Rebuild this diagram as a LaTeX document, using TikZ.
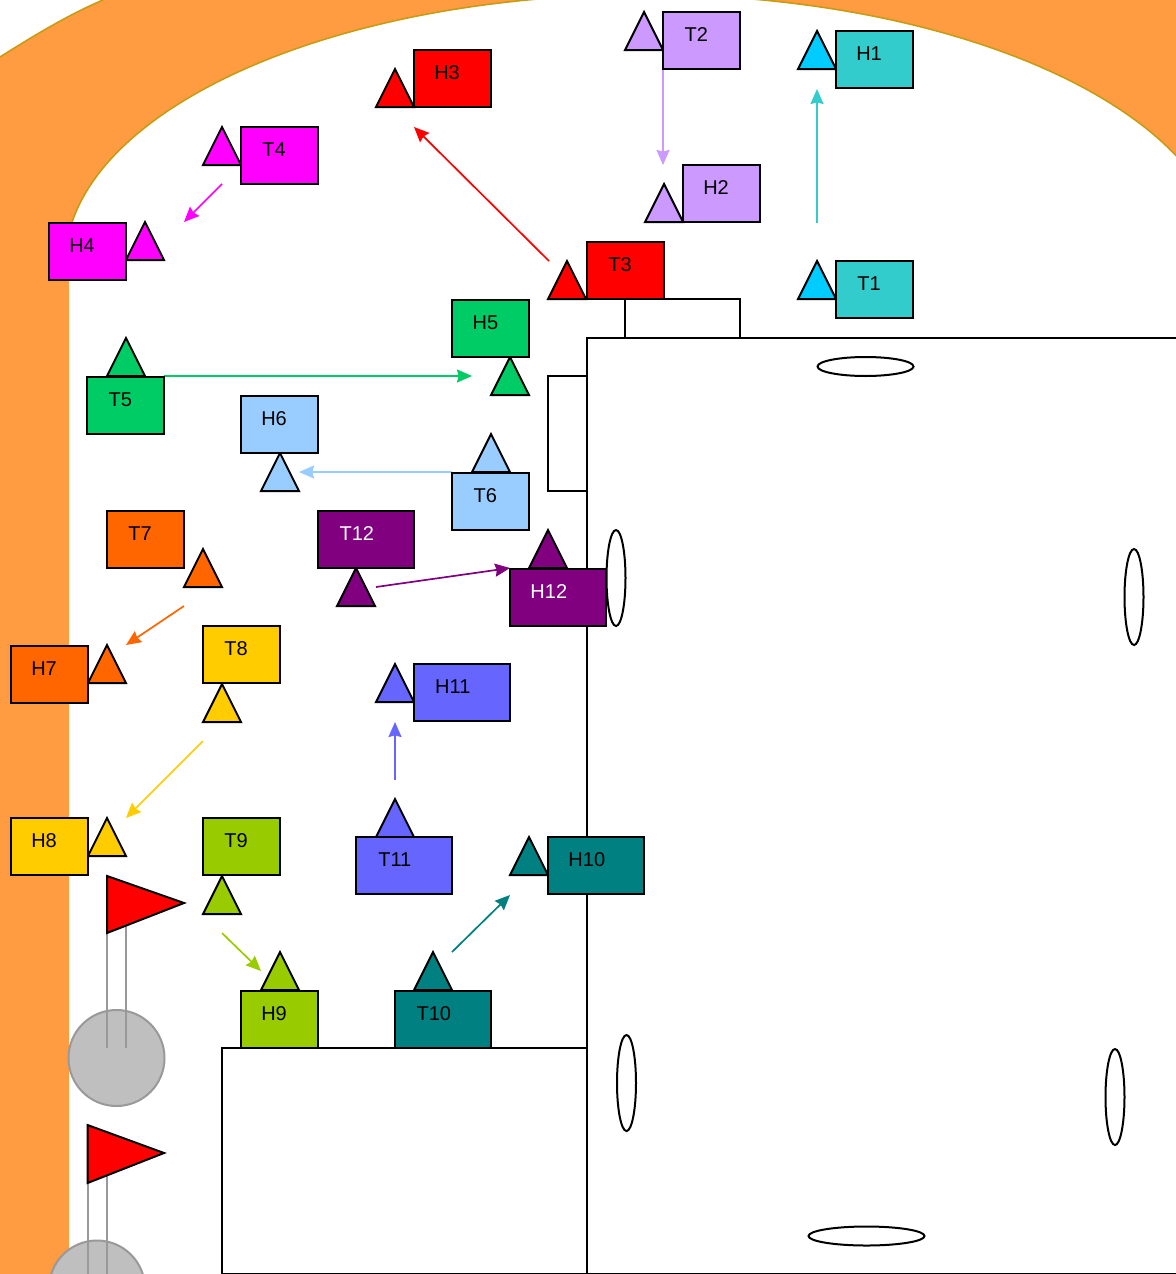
\documentclass[tikz,border=0pt]{standalone}
\usepackage{fontspec}
\setmainfont{Liberation Sans}
\usepackage{xcolor}
\usetikzlibrary{arrows.meta}

\definecolor{wallcol}{HTML}{FF9B40}
\definecolor{rimcol}{HTML}{C89B14}
\definecolor{poolcol}{HTML}{BFBFBF}
\definecolor{polecol}{HTML}{999999}
\definecolor{cyanbox}{HTML}{33CCCC}
\definecolor{cyantri}{HTML}{00CCFF}
\definecolor{lilac}{HTML}{CC99FF}
\definecolor{pink}{HTML}{FF00FF}
\definecolor{leaf}{HTML}{00CC66}
\definecolor{sky}{HTML}{99CCFF}
\definecolor{rust}{HTML}{FF6600}
\definecolor{amber}{HTML}{FFCC00}
\definecolor{lime}{HTML}{99CC00}
\definecolor{tealcol}{HTML}{008080}
\definecolor{indigo}{HTML}{6666FF}
\definecolor{plum}{HTML}{800080}

\tikzset{
  teambox/.style={draw=black,line width=1pt,rectangle,anchor=north west,inner sep=0pt,outer sep=0pt,minimum height=28.6pt},
  teamlbl/.style={inner sep=0pt,font=\fontsize{10}{12}\selectfont},
  tri/.style={draw=black,line width=1pt,line join=miter},
  plainshape/.style={draw=black,line width=1pt,fill=white},
  move/.style={line width=0.85pt,-{Stealth[length=7.5pt,width=6.5pt,inset=0.8pt]}},
  pennant/.style={draw=black,line width=1pt,fill=red,line join=miter},
  pole/.style={draw=polecol,line width=1pt},
  pool/.style={draw=polecol,line width=1pt,fill=poolcol}
}

\begin{document}
\begin{tikzpicture}[x=0.5pt,y=-0.5pt]
\path[use as bounding box,clip] (0,0) rectangle (1176,1274);
\fill[white] (0,0) rectangle (1176,1274);

% wall
\fill[wallcol] (0,57) .. controls (35,35) and (68,15) .. (103,0) -- (1176,0) -- (1176,264) -- (69,264) -- (69,1274) -- (0,1274) -- cycle;
\draw[rimcol,line width=0.8pt] (0,57) .. controls (35,35) and (68,15) .. (103,0);
\draw[rimcol,line width=0.8pt,fill=white] (645,264.4) ellipse [x radius=290pt,y radius=135pt];
\fill[white] (69,265) rectangle (1176,1274);
\fill[wallcol] (0,265) rectangle (69,1274);

% building
\draw[plainshape] (625,299) rectangle (740,338);
\draw[plainshape] (548,376) rectangle (587,491);
\draw[plainshape] (587,338) rectangle (1200,1274);
\draw[plainshape] (222,1048) rectangle (587,1274);
\foreach \ex/\ey/\rx/\ry in {865.5/366.5/24/4.75,616/578/4.75/24,1134/597/4.75/24,626.5/1083/4.75/24,1115/1097/4.75/24,866.5/1236/29/4.75}
  \draw[plainshape] (\ex,\ey) ellipse [x radius=\rx pt,y radius=\ry pt];

% pools and flags
\draw[pool] (116.5,1058) circle [radius=24pt];
\draw[pool] (97,1288.5) circle [radius=24pt];
\foreach \px/\py/\pe in {107/925/1048,126/925/1048,87.5/1175/1274,107/1175/1274}
  \draw[pole] (\px,\py) -- (\px,\pe);
\draw[pennant] (107,876) -- (184,903) -- (107,933) -- cycle;
\draw[pennant] (87.5,1125) -- (164,1153) -- (87.5,1183) -- cycle;

% moves
\foreach \n/\col/\xa/\ya/\xb/\yb in {1/cyanbox/817/223/817/89,2/lilac/663/69/663/165,3/red/549/261/414/127,
  4/pink/222/184/184/222,5/leaf/164/376/472/376,6/sky/452/472/299/472,7/rust/184/606/126/645,8/amber/203/741/126/818,
  9/lime/222/933/261/971,10/tealcol/452/952/510/895,11/indigo/395/780/395/722,12/plum/376/587/510/568}{
  \coordinate (from\n) at (\xa,\ya);
  \coordinate (to\n) at (\xb,\yb);
  \draw[move,draw=\col,fill=\col] (from\n) -- (to\n);
}

% triangles, apex given
\foreach \ax/\ay/\col in {817/31/cyantri,817/261/cyantri,644/12/lilac,664/184/lilac,567/261/red,395/69/red,
  222/127/pink,145/222/pink,510/357/leaf,126/338/leaf,280/453/sky,491/434/sky,203/549/rust,107/645/rust,
  222/684/amber,107/818/amber,222/876/lime,280/952/lime,433/952/tealcol,529/837/tealcol,395/799/indigo,395/664/indigo,
  356/568/plum,548/530/plum}
  \draw[tri,fill=\col] (\ax-19,\ay+38) -- (\ax,\ay) -- (\ax+19,\ay+38) -- cycle;

% boxes
\foreach \n/\x/\y/\w/\col/\tc in {H1/836/31/76.8/cyanbox/black,T1/836/261/76.8/cyanbox/black,T2/663.3/12/76.8/lilac/black,H2/683/165/76.8/lilac/black,
  T3/587/242/76.8/red/black,H3/414/50/76.8/red/black,T4/241/127/76.8/pink/black,H4/49/222.5/76.8/pink/black,
  H5/452.3/299.5/76.8/leaf/black,T5/87.3/376.5/76.8/leaf/black,H6/241/395.5/76.8/sky/black,T6/452.3/472.5/76.8/sky/black,
  T7/107/511/76.8/rust/black,H7/11/645.5/76.8/rust/black,T8/203/626/76.8/amber/black,H8/11/818/76.8/amber/black,
  T9/203/818/76.8/lime/black,H9/241/991/76.8/lime/black,T10/395/991/96/tealcol/black,H10/548/837/96/tealcol/black,
  T11/356/837/96/indigo/black,H11/414/664/96/indigo/black,T12/318/511/96/plum/white,H12/510/568.5/96/plum/white}{
  \node[teambox,fill=\col,minimum width=\w*0.5pt] (\n) at (\x,\y) {};
  \node[teamlbl,text=\tc] (\n-lbl) at ([xshift={(\w*0.3+10)*0.5pt},yshift=-11.5pt]\n.north west) {\n};
}
\end{tikzpicture}
\end{document}
